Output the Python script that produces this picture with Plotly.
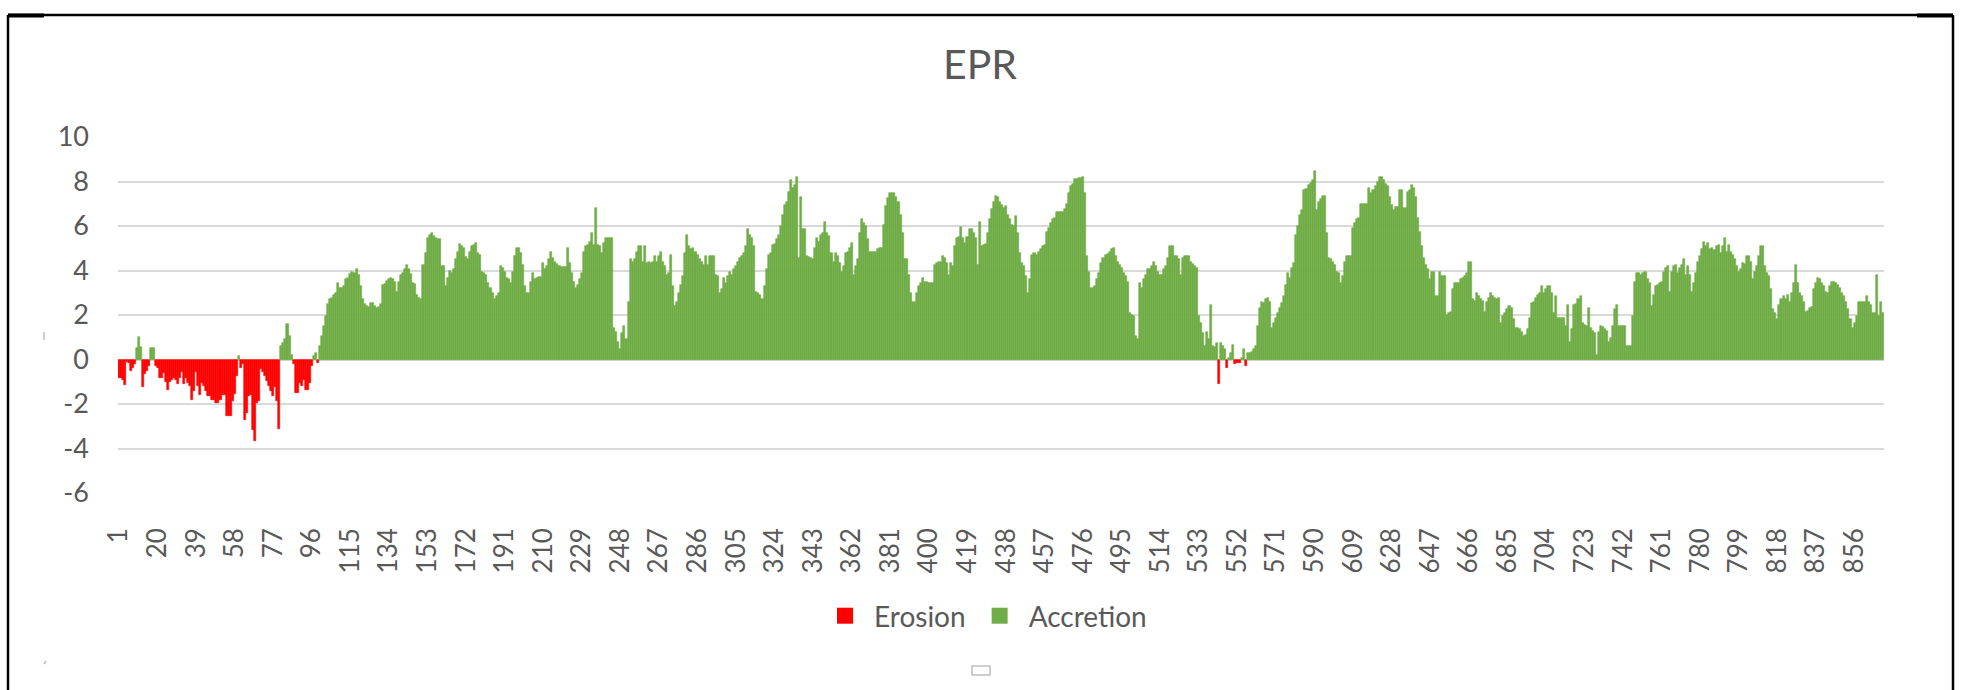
import plotly.graph_objects as go

# End Point Rate (m/yr) for each shore-normal transect, in blocks of transects
epr_001_089 = [
    -0.85, -0.85, -0.9, -1.15, -0.1, -0.15, -0.5, -0.4, -0.2, 0.5,
    1.0, 0.55, -1.25, -0.65, -0.5, -0.3, 0.5, 0.5, -0.3, -0.4,
    -0.85, -0.85, -0.6, -1.0, -1.35, -1.0, -0.9, -0.85, -0.9, -1.1,
    -0.85, -0.55, -1.1, -0.85, -1.05, -1.2, -1.8, -1.4, -0.55, -1.2,
    -1.6, -1.05, -1.2, -1.4, -1.65, -1.65, -1.8, -1.8, -1.95, -1.95,
    -1.8, -1.6, -1.6, -2.55, -2.55, -2.55, -1.87, -1.57, -0.75, 0.15,
    -0.37, -0.22, -2.7, -2.4, -1.65, -1.6, -3.15, -3.65, -1.95, -1.87,
    -0.42, -0.55, -0.75, -0.97, -1.2, -1.42, -1.65, -1.25, -1.87, -3.14,
    0.6, 0.75, 0.9, 1.6, 1.05, 0.2, -0.22, -1.5, -1.5,
]
epr_090_188 = [
    -1.05, -1.2, -0.9, -1.35, -1.38, -1.05, -0.3, 0.15, 0.3, -0.15,
    0.6, 1.05, 1.5, 1.95, 2.5, 2.7, 2.75, 2.9, 3.0, 3.45,
    3.2, 3.2, 3.3, 3.6, 3.65, 3.85, 3.95, 3.9, 4.05, 3.8,
    3.3, 2.7, 2.5, 2.4, 2.35, 2.55, 2.55, 2.4, 2.3, 2.35,
    2.5, 3.35, 3.4, 3.55, 3.6, 3.65, 3.6, 3.5, 3.05, 3.5,
    3.8, 3.9, 4.05, 4.25, 4.05, 3.85, 3.45, 3.4, 2.9, 2.75,
    2.7, 4.25, 4.8, 5.45, 5.6, 5.7, 5.55, 5.45, 5.4, 5.4,
    4.2, 4.2, 3.3, 3.65, 4.0, 3.9, 4.05, 4.5, 4.85, 5.2,
    5.1, 5.0, 4.6, 4.5, 4.85, 5.1, 5.15, 5.25, 4.8, 4.7,
    3.95, 3.9, 3.8, 3.45, 3.2, 3.0, 2.7, 2.85, 3.0,
]
epr_189_287 = [
    4.2, 4.1, 3.95, 3.65, 3.6, 3.45, 3.95, 4.65, 5.0, 5.0,
    4.8, 4.25, 3.3, 3.0, 3.0, 3.5, 3.9, 3.6, 3.65, 3.7,
    3.7, 4.35, 4.05, 4.2, 4.5, 4.85, 4.55, 4.4, 4.3, 4.2,
    4.15, 4.15, 4.15, 5.0, 4.35, 3.9, 3.5, 3.2, 3.35, 3.6,
    3.9, 4.85, 5.1, 5.15, 5.3, 5.7, 5.15, 6.8, 5.15, 5.1,
    4.8, 5.25, 5.45, 5.45, 5.45, 5.45, 1.4, 1.25, 0.8, 0.45,
    1.2, 1.5, 0.9, 2.6, 4.5, 4.4, 4.5, 4.85, 5.1, 5.1,
    4.4, 5.1, 4.35, 4.4, 4.35, 4.4, 4.65, 4.4, 4.65, 4.85,
    4.4, 4.2, 3.8, 3.9, 4.7, 3.3, 2.4, 2.6, 3.0, 3.35,
    3.75, 4.8, 5.6, 5.1, 4.95, 5.0, 4.85, 4.7, 4.5,
]
epr_288_385 = [
    4.4, 4.25, 4.65, 4.25, 4.65, 4.65, 4.65, 3.8, 3.75, 3.0,
    3.15, 3.65, 3.45, 3.75, 3.95, 3.8, 4.05, 4.2, 4.4, 4.55,
    4.65, 4.8, 5.1, 5.85, 5.6, 5.45, 5.1, 3.05, 3.0, 2.9,
    2.7, 3.3, 4.05, 4.7, 4.8, 5.15, 5.2, 5.4, 5.6, 6.0,
    6.5, 6.95, 7.1, 7.55, 8.05, 7.7, 7.85, 8.2, 4.55, 7.3,
    5.85, 5.85, 4.65, 4.6, 4.55, 4.5, 5.0, 5.45, 5.3, 5.6,
    5.7, 6.2, 5.7, 5.55, 4.8, 4.4, 4.8, 4.65, 4.35, 3.95,
    4.2, 4.8, 4.85, 5.0, 5.25, 3.8, 4.2, 4.5, 5.7, 6.3,
    6.15, 6.0, 5.4, 4.85, 4.85, 4.85, 4.85, 4.95, 5.0, 5.0,
    6.05, 6.9, 7.25, 7.5, 7.5, 7.5, 7.3, 7.1,
]
epr_386_484 = [
    6.5, 5.7, 4.5, 4.5, 3.8, 3.0, 2.6, 2.6, 3.0, 3.3,
    3.45, 3.65, 3.5, 3.5, 3.45, 3.45, 3.45, 4.25, 4.35, 4.4,
    4.4, 4.65, 4.55, 4.35, 3.8, 4.35, 4.2, 5.1, 5.45, 5.5,
    5.95, 5.45, 5.25, 5.5, 5.85, 5.85, 5.7, 5.45, 4.25, 6.2,
    5.1, 5.15, 5.2, 5.7, 6.3, 6.75, 7.1, 7.35, 7.3, 7.1,
    6.95, 6.8, 6.9, 6.5, 6.3, 6.05, 6.0, 6.45, 5.7, 4.8,
    4.35, 4.2, 3.75, 3.0, 3.6, 4.7, 4.8, 4.7, 4.85, 4.95,
    5.1, 5.15, 5.75, 5.9, 6.15, 6.3, 6.35, 6.65, 6.65, 6.65,
    6.65, 6.75, 7.0, 7.5, 7.8, 7.9, 8.1, 8.1, 8.15, 8.15,
    8.2, 7.5, 4.65, 3.95, 3.2, 3.2, 3.3, 3.6, 3.9,
]
epr_485_582 = [
    4.35, 4.55, 4.7, 4.75, 4.85, 4.95, 5.0, 4.65, 4.4, 4.25,
    4.1, 3.9, 3.75, 3.5, 2.1, 2.0, 1.95, 1.05, 0.9, 3.45,
    3.2, 3.6, 3.8, 4.05, 4.05, 4.2, 4.4, 4.2, 3.95, 3.8,
    3.8, 4.05, 4.2, 4.55, 5.1, 5.1, 4.65, 4.65, 4.5, 3.8,
    4.55, 4.65, 4.65, 4.65, 4.4, 4.3, 4.2, 4.1, 1.95, 1.65,
    1.2, 0.6, 1.25, 0.9, 2.45, 0.6, 0.55, 0.75, -1.1, 0.75,
    0.6, 0.45, -0.37, 0.05, 0.3, 0.65, -0.22, -0.15, -0.15, 0.05,
    0.45, -0.3, 0.3, 0.3, 0.35, 0.45, 0.6, 1.5, 2.3, 2.6,
    2.55, 2.7, 2.75, 2.6, 1.4, 1.65, 1.85, 2.1, 2.3, 2.55,
    2.85, 3.35, 3.9, 3.65, 4.1, 4.35, 5.6, 6.0,
]
epr_583_681 = [
    6.5, 6.7, 7.6, 7.65, 7.85, 7.95, 8.05, 8.45, 6.7, 7.1,
    7.2, 7.35, 7.35, 5.7, 4.55, 4.5, 4.4, 4.25, 3.95, 3.9,
    3.45, 3.75, 4.4, 4.65, 4.65, 4.65, 5.9, 6.15, 6.3, 6.35,
    7.0, 7.0, 7.0, 7.0, 7.7, 7.5, 7.6, 7.8, 8.0, 8.2,
    8.2, 8.05, 7.9, 7.8, 7.3, 6.95, 6.7, 6.85, 6.85, 7.6,
    7.6, 6.8, 6.8, 7.55, 7.6, 7.85, 7.7, 7.3, 6.35, 5.75,
    5.1, 4.55, 4.25, 4.05, 3.6, 3.95, 3.95, 2.85, 2.85, 3.95,
    3.75, 3.75, 2.0, 2.1, 2.15, 3.15, 3.45, 3.45, 3.45, 3.6,
    3.65, 3.75, 3.9, 4.4, 4.4, 2.7, 2.65, 3.0, 2.85, 2.7,
    2.65, 2.15, 2.6, 2.75, 3.0, 2.85, 2.75, 2.7, 2.75,
]
epr_682_779 = [
    1.65, 1.95, 2.1, 2.25, 2.4, 2.3, 1.8, 1.4, 1.4, 1.35,
    1.25, 1.05, 1.1, 1.35, 1.85, 2.55, 2.6, 2.75, 2.9, 3.0,
    3.3, 3.0, 3.15, 3.3, 3.3, 3.0, 2.1, 2.85, 1.85, 1.85,
    1.85, 1.85, 1.5, 2.45, 0.8, 1.35, 2.45, 2.5, 2.7, 2.85,
    1.65, 1.55, 1.5, 2.3, 1.4, 1.3, 1.2, 0.2, 1.25, 1.5,
    1.45, 1.35, 1.3, 0.8, 0.95, 1.5, 2.25, 2.45, 1.5, 1.5,
    1.5, 1.5, 0.6, 0.6, 0.6, 1.95, 3.5, 3.9, 3.9, 3.8,
    3.9, 3.95, 3.6, 3.45, 2.4, 2.9, 3.3, 3.35, 3.45, 3.5,
    3.95, 4.1, 4.2, 3.05, 3.95, 4.2, 4.25, 3.9, 4.1, 4.25,
    4.5, 3.8, 4.2, 3.8, 3.05, 3.45, 3.9, 4.4,
]
epr_780_870 = [
    4.65, 4.95, 5.3, 5.1, 5.25, 4.95, 5.0, 4.9, 5.1, 5.15,
    4.8, 5.1, 5.45, 4.85, 5.15, 4.85, 4.7, 4.5, 4.2, 3.95,
    4.05, 4.35, 4.3, 4.65, 4.65, 4.4, 3.6, 3.95, 4.2, 4.65,
    5.1, 5.1, 4.2, 3.9, 3.75, 3.15, 2.25, 2.1, 1.8, 2.45,
    2.7, 2.85, 2.7, 2.9, 2.6, 3.0, 3.45, 4.25, 3.45, 3.0,
    2.85, 2.6, 2.15, 2.2, 2.3, 2.35, 3.15, 3.45, 3.65, 3.6,
    3.45, 3.3, 3.05, 3.0, 3.3, 3.5, 3.5, 3.45, 3.35, 3.2,
    3.0, 2.85, 2.6, 2.25, 1.8, 1.4, 1.65, 1.95, 2.6, 2.6,
    2.6, 2.6, 2.85, 2.6, 2.45, 2.1, 2.1, 3.8, 1.95, 2.6,
    2.1,
]

epr = (epr_001_089 + epr_090_188 + epr_189_287 + epr_288_385 + epr_386_484
       + epr_485_582 + epr_583_681 + epr_682_779 + epr_780_870)
transects = list(range(1, len(epr) + 1))
tick_transects = transects[::19]
y_ticks = list(range(-6, 11, 2))

# Negative rates are erosion, the rest accretion
erosion = [v if v < 0 else None for v in epr]
accretion = [v if v >= 0 else None for v in epr]

RED = "#FF0000"
GREEN = "#70AD47"
TEXT = "#595959"
GRID = "#D9D9D9"
FONT = "Lato, 'Open Sans', sans-serif"

W, H = 1968, 690
L, R, T, B = 118, 84, 137, 197
PW, PH = W - L - R, H - T - B


def px(x):
    return (x - L) / PW


def py(y):
    return (H - B - y) / PH


fig = go.Figure()
# bars are outlined in their own colour so neighbouring bars join seamlessly
fig.add_trace(go.Bar(x=transects, y=erosion, name="Erosion", showlegend=False,
                     marker=dict(color=RED, line=dict(color=RED, width=0.6))))
fig.add_trace(go.Bar(x=transects, y=accretion, name="Accretion", showlegend=False,
                     marker=dict(color=GREEN, line=dict(color=GREEN, width=0.6))))

# legend entries drawn as plain square swatches
for name, colour in (("Erosion", RED), ("Accretion", GREEN)):
    fig.add_trace(go.Scatter(x=[None], y=[None], mode="markers", name=name,
                             marker=dict(symbol="square", size=17, color=colour,
                                         line=dict(width=0))))

# outer frame around the chart
frame = dict(type="line", xref="paper", yref="paper",
             line=dict(color="black", width=2.5))
corner = dict(type="line", xref="paper", yref="paper",
              line=dict(color="black", width=4))
handle = dict(type="line", xref="paper", yref="paper",
              line=dict(color="#BFBFBF", width=1.5))
shapes = [
    dict(frame, x0=px(8), x1=px(1953), y0=py(15), y1=py(15)),
    dict(frame, x0=px(8), x1=px(8), y0=py(15), y1=py(H + 2)),
    dict(frame, x0=px(1953), x1=px(1953), y0=py(15), y1=py(H + 2)),
    dict(corner, x0=px(8), x1=px(44), y0=py(15.5), y1=py(15.5)),
    dict(corner, x0=px(1917), x1=px(1953), y0=py(15.5), y1=py(15.5)),
    dict(handle, x0=px(44), x1=px(44), y0=py(332), y1=py(340)),
    dict(handle, x0=px(44), x1=px(46), y0=py(664), y1=py(661)),
    dict(type="rect", xref="paper", yref="paper",
         x0=px(972), x1=px(990), y0=py(675), y1=py(666),
         line=dict(color="#BFBFBF", width=1.5)),
]

fig.update_layout(
    width=W, height=H,
    margin=dict(l=L, r=R, t=T, b=B, pad=0),
    paper_bgcolor="white", plot_bgcolor="white",
    font=dict(family=FONT, color=TEXT),
    title=dict(text="EPR", x=980 / W, xanchor="center",
               y=1 - 65 / H, yanchor="middle",
               font=dict(size=41, color=TEXT, family=FONT)),
    barmode="overlay", bargap=0,
    showlegend=True,
    legend=dict(orientation="h", x=px(984), xanchor="center",
                y=py(616), yanchor="middle",
                font=dict(size=28, color=TEXT, family=FONT),
                itemsizing="trace", itemwidth=48),
    xaxis=dict(range=[0.5, len(epr) + 0.5], tickmode="array",
               tickvals=tick_transects,
               ticktext=[str(t) for t in tick_transects],
               tickangle=-90, ticks="", showgrid=False, zeroline=False,
               showline=False, tickfont=dict(size=26, color=TEXT),
               ticklabelstandoff=29),
    yaxis=dict(range=[-6, 10], tickmode="array", tickvals=y_ticks,
               ticktext=[str(v) for v in y_ticks], ticks="",
               showgrid=True, gridcolor=GRID, gridwidth=2,
               zeroline=True, zerolinecolor=GRID, zerolinewidth=2,
               showline=False, tickfont=dict(size=27, color=TEXT),
               ticklabelstandoff=28),
    shapes=shapes,
)

fig.write_html("out.html")
